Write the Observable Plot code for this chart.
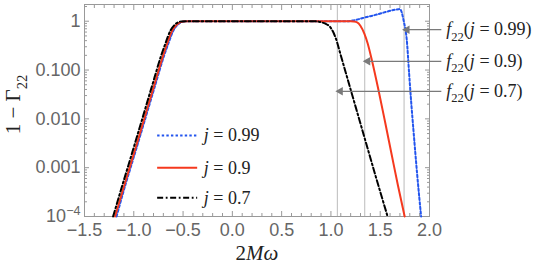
<!DOCTYPE html>
<html><head><meta charset="utf-8">
<script src="https://cdn.jsdelivr.net/npm/d3@7"></script>
<script src="https://cdn.jsdelivr.net/npm/@observablehq/plot@0.6"></script>
<style>body{margin:0;background:#fff}#chart{width:540px;height:264px}</style>
</head><body><div id="chart"></div>
<script>
// ---- data ----
const seriesLabels = ["j = 0.99", "j = 0.9", "j = 0.7"];
const seriesColors = ["#2355ee", "#f5391e", "#000000"];
const seriesDash = ["2.4,2.2", null, "6,2.6,1.8,2.6"];

const x099 = [-1.175,-1.09,-0.99,-0.89,-0.79,-0.69,-0.648,-0.598,-0.548,-0.49,-0.44,-0.38,0,0.5,1.0,1.147,1.40,1.685,1.700,1.738,1.773,1.789,1.813,1.840,1.874,1.915];
const y099 = [1e-4,4.1e-4,1.92e-3,9.1e-3,0.0436,0.204,0.355,0.645,0.87,0.99,1.0,1.0,1.0,1.0,1.0,1.0,1.27,1.76,1.775,1.02,0.342,0.1135,0.0237,0.005,7.6e-4,1e-4];

const x09 = [-1.19,-1.1,-1.0,-0.9,-0.8,-0.7,-0.66,-0.61,-0.56,-0.5,-0.45,-0.4,0,0.5,1.0,1.2,1.23,1.266,1.299,1.34,1.373,1.418,1.485,1.55,1.616,1.68,1.748];
const y09 = [1e-4,4.1e-4,1.92e-3,9.1e-3,0.0436,0.204,0.355,0.645,0.87,0.99,1.0,1.0,1.0,1.0,1.0,1.0,0.99,0.95,0.81,0.55,0.35,0.151,0.0367,0.0085,0.00186,4.3e-4,1e-4];

const x07 = [-1.21,-1.12,-1.02,-0.92,-0.82,-0.72,-0.678,-0.628,-0.578,-0.52,-0.47,-0.42,0,0.5,0.8,0.86,0.893,0.944,0.995,1.046,1.096,1.15,1.25,1.35,1.45,1.575];
const y07 = [1e-4,4.1e-4,1.92e-3,9.1e-3,0.0436,0.204,0.355,0.645,0.87,0.99,1.0,1.0,1.0,1.0,1.0,0.99,0.96,0.89,0.746,0.467,0.213,0.089,0.0178,0.00355,7.1e-4,1e-4];

const f22Labels = ["f22(j = 0.99)", "f22(j = 0.9)", "f22(j = 0.7)"];
const f22Values = [1.742, 1.343, 1.065];
const f22ArrowY = [0.67, 0.151, 0.0367];
const f22TextX = 2.17;
const f22ArrowStartX = 2.12;

const legendX = [-0.763, -0.357];
const legendTextX = -0.29;
const legendY = [0.00455, 0.000995, 0.000242];

const xTicks = [-1.5,-1,-0.5,0,0.5,1,1.5,2];
const xTickLabels = ["−1.5","−1.0","−0.5","0.0","0.5","1.0","1.5","2.0"];
const xMinor = d3.range(-15, 21).map(d => d / 10).filter(v => !xTicks.some(t => Math.abs(t - v) < 1e-9));
const yTicks = [1e-4, 1e-3, 1e-2, 1e-1, 1];
const yTickLabels = ["10^-4", "0.001", "0.010", "0.100", "1"];
const yMinor = [];
for (const d of [1e-4,1e-3,1e-2,1e-1,1]) for (let k = 2; k <= 9; k++) if (k*d <= 2.2) yMinor.push(k*d);

const xLabel = "2Mω";
const yLabel = "1 − Γ22";

const toRows = (xs, ys) => xs.map((x, i) => ({x, y: ys[i]}));
const data = [toRows(x099, y099), toRows(x09, y09), toRows(x07, y07)];

const gray = "#666";
const serif = "Liberation Serif";
const sans = "Liberation Sans";

const lineMarks = data.map((rows, i) => Plot.line(rows, {
  x: "x", y: "y", stroke: seriesColors[i], strokeWidth: 2,
  strokeDasharray: seriesDash[i], curve: "monotone-x"
}));
const legendMarks = seriesLabels.flatMap((lab, i) => [
  Plot.link([legendY[i]], {x1: legendX[0], x2: legendX[1], y1: d => d, y2: d => d,
    stroke: seriesColors[i], strokeWidth: 2, strokeDasharray: seriesDash[i]}),
  Plot.text([lab], {x: legendTextX, y: () => legendY[i], text: d => d, textAnchor: "start",
    fontSize: 18, fontFamily: serif, fill: "#222"})
]);

const plot = Plot.plot({
  width: 540, height: 264,
  marginLeft: 84, marginRight: 111, marginTop: 4, marginBottom: 48,
  style: {background: "white", fontFamily: sans},
  x: {domain: [-1.5, 2.0]},
  y: {type: "log", domain: [1e-4, 2.2]},
  marks: [
    Plot.ruleX(f22Values, {stroke: "#bbb", strokeWidth: 1}),
    Plot.axisX(xTicks, {anchor: "bottom", tickSize: -5, tickFormat: () => "", label: null, color: "#999"}),
    Plot.axisX(xMinor, {anchor: "bottom", tickSize: -3, tickFormat: () => "", label: null, color: "#999"}),
    Plot.axisX(xTicks, {anchor: "top", tickSize: -5, tickFormat: () => "", label: null, color: "#999"}),
    Plot.axisX(xMinor, {anchor: "top", tickSize: -3, tickFormat: () => "", label: null, color: "#999"}),
    Plot.axisY(yTicks, {anchor: "left", tickSize: -5, tickFormat: () => "", label: null, color: "#999"}),
    Plot.axisY(yMinor, {anchor: "left", tickSize: -3, tickFormat: () => "", label: null, color: "#999"}),
    Plot.axisY(yTicks, {anchor: "right", tickSize: -5, tickFormat: () => "", label: null, color: "#999"}),
    Plot.axisY(yMinor, {anchor: "right", tickSize: -3, tickFormat: () => "", label: null, color: "#999"}),
    Plot.axisX(xTicks, {anchor: "bottom", tickSize: 0, tickPadding: 7, fontSize: 18, color: gray,
      tickFormat: d => xTickLabels[xTicks.indexOf(d)], label: null}),
    Plot.axisY(yTicks, {anchor: "left", tickSize: 0, tickPadding: 4, fontSize: 18, color: gray,
      tickFormat: d => yTickLabels[yTicks.indexOf(d)], label: null}),
    Plot.frame({stroke: "#999"}),
    ...lineMarks,
    ...legendMarks,
    Plot.link(f22Values, {x1: f22ArrowStartX, x2: d => d, y1: (d, i) => f22ArrowY[i], y2: (d, i) => f22ArrowY[i],
      stroke: "#7a7a7a", strokeWidth: 1.3}),
    Plot.dot(f22Values, {x: d => d, y: (d, i) => f22ArrowY[i], symbol: "triangle", r: 3.2, rotate: -90,
      dx: 3, fill: "#7a7a7a", stroke: null}),
    Plot.text(f22Labels, {x: f22TextX, y: (d, i) => f22ArrowY[i], text: d => d, textAnchor: "start",
      fontSize: 18, fontFamily: serif, fill: "#222"}),
    Plot.text([xLabel], {frameAnchor: "bottom", lineAnchor: "middle", dy: 37, text: d => d, fontSize: 21, fontFamily: serif, fill: "#222"}),
    Plot.text([yLabel], {frameAnchor: "left", textAnchor: "middle", lineAnchor: "middle", dx: -71, dy: -6, rotate: -90, text: d => d, fontSize: 21, fontFamily: serif, fill: "#222"})
  ]
});
document.getElementById("chart").appendChild(plot);

// rich text: italics, subscripts, superscripts
const NS = "http://www.w3.org/2000/svg";
function richify(el) {
  const s = el.textContent;
  if (!/(f22|Γ22|j =|2Mω|\^)/.test(s)) return;
  const fs = parseFloat(getComputedStyle(el).fontSize) || 16;
  const re = /\^(\S+)|(f|Γ)(22)|([jMω])|([^\^fΓjMω]+)/g;
  const parts = [];
  let m;
  while ((m = re.exec(s))) {
    if (m[1]) parts.push({t: m[1].replace("-", "−"), shift: -0.42, small: true});
    else if (m[2]) { parts.push({t: m[2], italic: m[2] === "f"}); parts.push({t: m[3], shift: 0.3, small: true}); }
    else if (m[4]) parts.push({t: m[4], italic: true});
    else parts.push({t: m[5]});
  }
  el.textContent = "";
  let cur = 0;
  for (const p of parts) {
    const ts = document.createElementNS(NS, "tspan");
    ts.textContent = p.t;
    const target = (p.shift || 0) * fs;
    if (target !== cur) ts.setAttribute("dy", (target - cur).toFixed(2));
    cur = target;
    if (p.italic) ts.setAttribute("font-style", "italic");
    if (p.small) ts.setAttribute("font-size", (fs * 0.7).toFixed(1));
    el.appendChild(ts);
  }
}
plot.querySelectorAll("text").forEach(richify);
</script></body></html>
